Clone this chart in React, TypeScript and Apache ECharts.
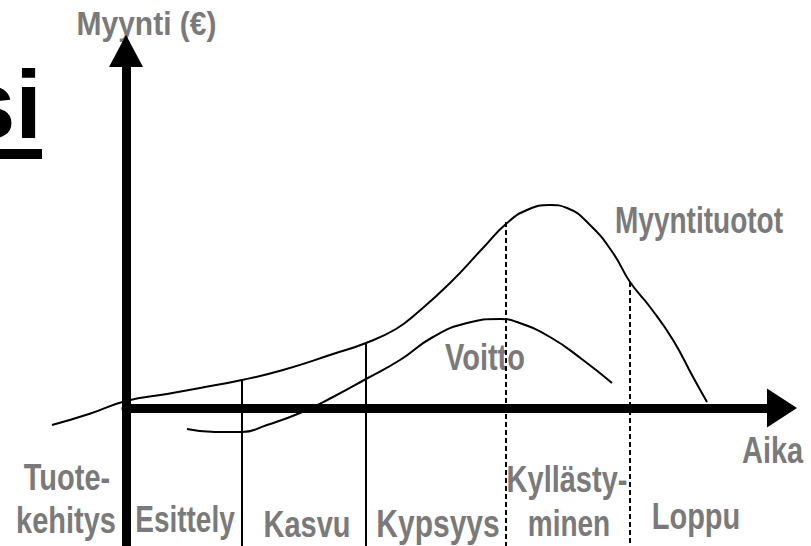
import React, { useEffect, useRef } from "react";
import * as echarts from "echarts";

// Sales revenue curve (Myyntituotot): time units vs sales units
const salesX = [-7.4, -3.7, 0, 4.1, 7.4, 11.6, 15.7, 20.7, 24.0, 27.0, 29.1, 32.4, 35.7, 38.1, 40.1, 42.4, 44.1, 46.4, 48.7, 50.4, 52.4, 54.7, 56.7, 58.1];
const salesY = [-1.7, -0.6, 0.7, 1.4, 2.0, 2.8, 3.8, 5.4, 6.5, 7.9, 9.5, 12.5, 16.0, 18.5, 19.8, 20.3, 20.0, 18.3, 15.5, 12.6, 10.1, 6.8, 3.1, 0.6];

// Profit curve (Voitto)
const profitX = [6.1, 8.9, 11.6, 14.1, 17.4, 20.7, 24.0, 27.4, 30.7, 34.1, 37.4, 39.1, 42.4, 45.7, 48.6];
const profitY = [-2.1, -2.4, -2.4, -1.7, -0.5, 1.1, 2.9, 4.8, 7.1, 8.5, 8.9, 8.6, 7.1, 4.8, 2.5];

// Phase boundaries
const boundaryX = [11.6, 24.0, 38.0, 50.4];
const boundaryTop = [2.8, 6.5, 18.6, 12.6];
const boundaryDashed = [false, false, true, true];

// Axis ranges
const X_DATA_MIN = -12.6;
const X_MIN = 0;
const X_MAX = 65.6;
const Y_MIN = -13.8;
const Y_MAX = 35.7;

// Text labels
const phaseLabels = ["Tuote-", "kehitys", "Esittely", "Kasvu", "Kypsyys", "Kyllästy-", "minen", "Loppu"];
const yAxisTitle = "Myynti (€)";
const xAxisTitle = "Aika";
const salesLabel = "Myyntituotot";
const profitLabel = "Voitto";
const titleFragment = "si";

const GREY = "#7a7a7a";
const FONT = '"Liberation Sans", Arial, sans-serif';

function greyText(text: string, x: number, y: number, size: number, scaleY: number, align = "center") {
  return {
    type: "text",
    x,
    y,
    scaleY,
    style: {
      text,
      fill: GREY,
      font: `bold ${size}px ${FONT}`,
      align,
      verticalAlign: "middle",
    },
  };
}

const hiddenAxisParts = {
  axisTick: { show: false },
  axisLabel: { show: false },
  splitLine: { show: false },
};

export default function App() {
  const ref = useRef<HTMLDivElement>(null);

  useEffect(() => {
    document.body.style.margin = "0";
    if (!ref.current) return;
    const chart = echarts.init(ref.current, null, { renderer: "svg" });

    const boundarySeries = boundaryX.map((bx, i) => ({
      type: "line",
      xAxisIndex: 0,
      yAxisIndex: 0,
      data: [
        [bx, boundaryTop[i]],
        [bx, Y_MIN],
      ],
      symbol: "none",
      clip: false,
      silent: true,
      lineStyle: {
        color: "#000",
        width: 2,
        type: boundaryDashed[i] ? [5, 3] : "solid",
      },
    }));

    const option: any = {
      animation: false,
      backgroundColor: "#ffffff",
      grid: [
        { left: 0, right: 29, top: 51, bottom: 0, containLabel: false },
        { left: 126, right: 29, top: 51, bottom: 0, containLabel: false },
      ],
      xAxis: [
        {
          type: "value",
          gridIndex: 0,
          min: X_DATA_MIN,
          max: X_MAX,
          axisLine: { show: false },
          ...hiddenAxisParts,
        },
        {
          type: "value",
          gridIndex: 1,
          min: X_MIN,
          max: X_MAX,
          axisLine: {
            show: true,
            onZero: true,
            symbol: ["none", "triangle"],
            symbolSize: [39, 30],
            lineStyle: { color: "#000", width: 9 },
          },
          ...hiddenAxisParts,
        },
      ],
      yAxis: [
        {
          type: "value",
          gridIndex: 0,
          min: Y_MIN,
          max: Y_MAX,
          axisLine: { show: false },
          ...hiddenAxisParts,
        },
        {
          type: "value",
          gridIndex: 1,
          min: Y_MIN,
          max: Y_MAX,
          axisLine: {
            show: true,
            onZero: true,
            symbol: ["none", "triangle"],
            symbolSize: [34, 32],
            lineStyle: { color: "#000", width: 9 },
          },
          ...hiddenAxisParts,
        },
      ],
      series: [
        {
          name: salesLabel,
          type: "line",
          xAxisIndex: 0,
          yAxisIndex: 0,
          data: salesX.map((x, i) => [x, salesY[i]]),
          smooth: 0.5,
          symbol: "none",
          clip: false,
          lineStyle: { color: "#000", width: 2 },
        },
        {
          name: profitLabel,
          type: "line",
          xAxisIndex: 0,
          yAxisIndex: 0,
          data: profitX.map((x, i) => [x, profitY[i]]),
          smooth: 0.5,
          symbol: "none",
          clip: false,
          lineStyle: { color: "#000", width: 2 },
        },
        ...boundarySeries,
        {
          type: "line",
          xAxisIndex: 1,
          yAxisIndex: 1,
          data: [],
          symbol: "none",
          silent: true,
        },
      ],
      graphic: [
        {
          type: "text",
          x: 42,
          y: 104.7,
          style: {
            text: titleFragment,
            fill: "#000",
            font: `bold 96px ${FONT}`,
            align: "right",
            verticalAlign: "middle",
          },
        },
        { type: "rect", shape: { x: 0, y: 149, width: 42, height: 10 }, style: { fill: "#000" } },
        greyText(yAxisTitle, 146.5, 23.5, 30, 1.1),
        greyText(salesLabel, 699, 221, 28, 1.3),
        greyText(profitLabel, 485, 357, 29, 1.25),
        greyText(xAxisTitle, 742, 450, 29, 1.3, "left"),
        greyText(phaseLabels[0], 67, 477, 29, 1.3),
        greyText(phaseLabels[1], 66, 520, 29, 1.3),
        greyText(phaseLabels[2], 185, 520, 28, 1.3),
        greyText(phaseLabels[3], 307, 524, 29, 1.3),
        greyText(phaseLabels[4], 438, 524, 30, 1.3),
        greyText(phaseLabels[5], 567, 479, 29, 1.3),
        greyText(phaseLabels[6], 569, 524, 28, 1.3),
        greyText(phaseLabels[7], 696, 516, 29, 1.3),
      ],
    };

    chart.setOption(option);
    return () => chart.dispose();
  }, []);

  return (
    <div
      ref={ref}
      style={{ position: "absolute", left: 0, top: 0, width: 811, height: 546, background: "#fff" }}
    />
  );
}
